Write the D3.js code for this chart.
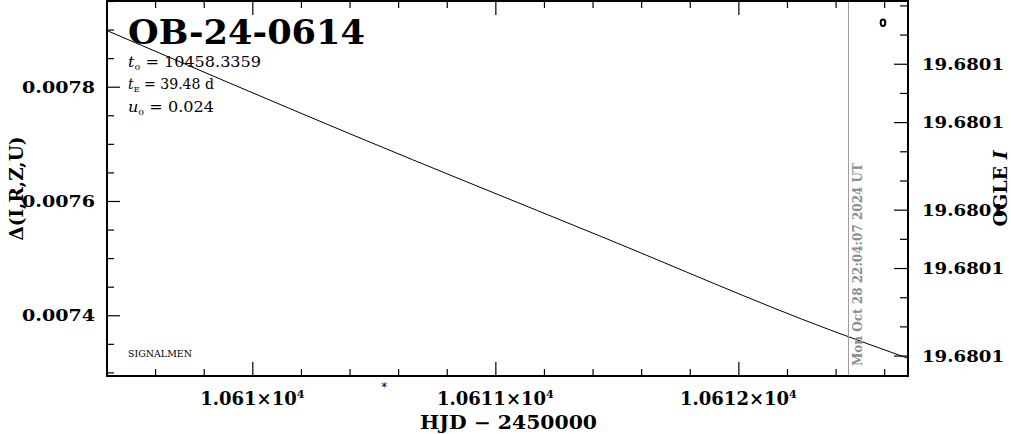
<!DOCTYPE html>
<html><head><meta charset="utf-8">
<script src="https://cdn.jsdelivr.net/npm/d3@7"></script>
<style>body{margin:0;background:#fff}svg{display:block}</style>
</head><body><svg id="c" width="1011" height="434"></svg>
<script>
// ---- data ----
const xDomain = [10609.402, 10612.698];          // HJD - 2450000 visible range
const yDomain = [0.0072937, 0.0079500];          // Δ(I,R,Z,U) visible range
const magDomain = [19.6800597, 19.6800854];      // OGLE I visible range (top, bottom)
const xMajorTicks = [10610, 10611, 10612];
const xMinorTicks = [10609.4, 10609.6, 10609.8, 10610.2, 10610.4, 10610.6, 10610.8,
                     10611.2, 10611.4, 10611.6, 10611.8, 10612.2, 10612.4, 10612.6];
const xTickLabels = ["1.061", "1.0611", "1.0612"];
const yMajorTicks = [0.0074, 0.0076, 0.0078];
const yMinorTicks = [0.00730, 0.00735, 0.00745, 0.00750, 0.00755, 0.00765, 0.00770,
                     0.00775, 0.00785, 0.00790, 0.00795];
const magTicks = [19.680060, 19.680062, 19.680064, 19.680066, 19.680068, 19.680070, 19.680072,
                  19.680074, 19.680076, 19.680078, 19.680080, 19.680082, 19.680084];
const magMajorTicks = [19.680064, 19.680068, 19.680074, 19.680078, 19.680084];
const modelHJD = [10609.406, 10610.402, 10611.431, 10612.378, 10612.695];
const modelDelta = [0.0078975, 0.0077175, 0.0075386, 0.0073742, 0.0073251];
const nowHJD = 10612.453;
const nowLabel = "Mon Oct 28 22:04:07 2024 UT";
const starHJD = 10610.543;
const pointHJD = [10612.595];
const pointDelta = [0.0079120];
const title = "OB-24-0614";
const t0 = "10458.3359", tE = "39.48", u0 = "0.024";

// ---- layout ----
const L = 107, R = 908, T = 1, B = 376;
const svg = d3.select("#c");
const x = d3.scaleLinear().domain(xDomain).range([L, R]);
const y = d3.scaleLinear().domain(yDomain).range([B, T]);
const m = d3.scaleLinear().domain(magDomain).range([T, B]);

const serif = "'DejaVu Serif', 'Liberation Serif', serif";

// model curve
svg.append("path")
  .datum(modelHJD.map((h, i) => [h, modelDelta[i]]))
  .attr("fill", "none").attr("stroke", "#000").attr("stroke-width", 1)
  .attr("d", d3.line().x(d => x(d[0])).y(d => y(d[1])).curve(d3.curveMonotoneX));

// current-time line
svg.append("line")
  .attr("x1", x(nowHJD)).attr("x2", x(nowHJD)).attr("y1", T).attr("y2", B)
  .attr("stroke", "#999").attr("stroke-width", 1);
svg.append("text")
  .attr("transform", `translate(${x(nowHJD) + 14},${B - 10}) rotate(-90)`)
  .attr("font-family", serif).attr("font-weight", "bold").attr("font-size", 12)
  .attr("fill", "#8c8c8c").attr("textLength", 203).attr("lengthAdjust", "spacingAndGlyphs")
  .text(nowLabel);

// axes helper
function ax(gen, tr, vals, size) {
  const g = svg.append("g").attr("transform", tr)
    .call(gen.tickValues(vals).tickSize(size).tickSizeOuter(0).tickFormat(""));
  g.select(".domain").remove();
  g.selectAll("line").attr("stroke", "#000").attr("stroke-width", 1.2);
  return g;
}
ax(d3.axisTop(x), `translate(0,${B})`, xMajorTicks, 14);
ax(d3.axisTop(x), `translate(0,${B})`, xMinorTicks, 7);
ax(d3.axisBottom(x), `translate(0,${T})`, xMajorTicks, 14);
ax(d3.axisBottom(x), `translate(0,${T})`, xMinorTicks, 7);
ax(d3.axisRight(y), `translate(${L},0)`, yMajorTicks, 13);
ax(d3.axisRight(y), `translate(${L},0)`, yMinorTicks, 7);
ax(d3.axisLeft(m), `translate(${R},0)`, magMajorTicks, 14);
ax(d3.axisLeft(m), `translate(${R},0)`, magTicks.filter(v => !magMajorTicks.includes(v)), 8);

// frame
svg.append("rect").attr("x", L).attr("y", T).attr("width", R - L).attr("height", B - T)
  .attr("fill", "none").attr("stroke", "#000").attr("stroke-width", 2);

// tick labels
const lab = { "font-family": serif, "font-weight": "bold", "font-size": 17, "fill": "#000" };
function style(sel, o) { for (const k in o) sel.attr(k, o[k]); return sel; }
style(svg.append("g").selectAll("text").data(yMajorTicks).join("text"), lab)
  .attr("x", 95).attr("y", d => y(d) + 6).attr("text-anchor", "end")
  .attr("textLength", 73).attr("lengthAdjust", "spacingAndGlyphs")
  .text(d => d3.format(".4f")(d));
style(svg.append("g").selectAll("text").data(magMajorTicks).join("text"), lab)
  .attr("x", 922).attr("y", d => m(d) + 6)
  .attr("textLength", 82).attr("lengthAdjust", "spacingAndGlyphs")
  .text(d => d3.format(".4f")(d));
const xl = style(svg.append("g").selectAll("text").data(xMajorTicks).join("text"), lab)
  .attr("x", d => x(d)).attr("y", 405).attr("text-anchor", "middle")
  .attr("font-size", 18);
xl.each(function (d, i) {
  const t = d3.select(this);
  t.append("tspan").text(xTickLabels[i] + "×10");
  t.append("tspan").attr("font-size", 11).attr("dy", -7).text("4");
});

// axis titles
style(svg.append("text"), lab).attr("font-size", 18)
  .attr("x", (L + R) / 2 + 1).attr("y", 429).attr("text-anchor", "middle")
  .attr("textLength", 177).attr("lengthAdjust", "spacingAndGlyphs")
  .text("HJD − 2450000");
style(svg.append("text"), lab).attr("font-size", 19)
  .attr("transform", `translate(23,${(T + B) / 2}) rotate(-90)`).attr("text-anchor", "middle")
  .attr("textLength", 104).attr("lengthAdjust", "spacingAndGlyphs")
  .text("Δ(I,R,Z,U)");
const og = style(svg.append("text"), lab).attr("font-size", 19)
  .attr("transform", `translate(1007,${(T + B) / 2}) rotate(-90)`).attr("text-anchor", "middle");
og.append("tspan").text("OGLE ");
og.append("tspan").attr("font-style", "italic").text("I");

// title
style(svg.append("text"), lab).attr("font-size", 34)
  .attr("x", 128).attr("y", 44).attr("textLength", 237).attr("lengthAdjust", "spacingAndGlyphs")
  .text(title);

// parameters
function param(yb, sym, sub, val, w) {
  const t = svg.append("text").attr("x", 128).attr("y", yb)
    .attr("font-family", serif).attr("font-size", 14).attr("fill", "#000")
    .attr("textLength", w).attr("lengthAdjust", "spacingAndGlyphs");
  t.append("tspan").attr("font-style", "italic").text(sym);
  t.append("tspan").attr("font-size", 8).attr("dy", 3).text(sub);
  t.append("tspan").attr("dy", -3).text(" = " + val);
}
param(67, "t", "0", t0, 133);
param(89, "t", "E", tE + " d", 86);
param(112, "u", "0", u0, 86);

// signature
svg.append("text").attr("x", 128).attr("y", 357)
  .attr("font-family", serif).attr("font-size", 9).attr("fill", "#000")
  .attr("textLength", 64).attr("lengthAdjust", "spacingAndGlyphs").text("SIGNALMEN");

// marker below axis
svg.append("text").attr("x", x(starHJD)).attr("y", 391).attr("text-anchor", "middle")
  .attr("font-family", "'DejaVu Sans', sans-serif").attr("font-size", 12).text("*");

// data point
svg.append("g").selectAll("ellipse").data(pointHJD).join("ellipse")
  .attr("cx", d => x(d)).attr("cy", (d, i) => y(pointDelta[i]))
  .attr("rx", 2.3).attr("ry", 3.2).attr("fill", "none").attr("stroke", "#000").attr("stroke-width", 2);
</script></body></html>
